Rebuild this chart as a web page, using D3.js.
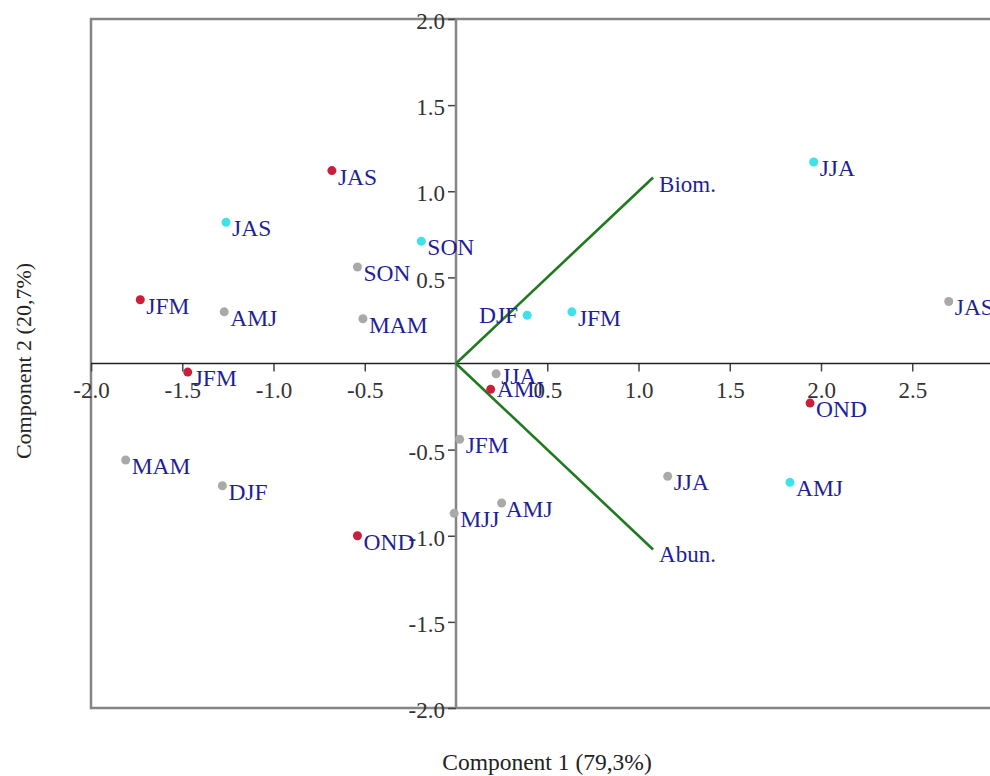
<!DOCTYPE html>
<html>
<head>
<meta charset="utf-8">
<script src="https://cdn.jsdelivr.net/npm/d3@7"></script>
<style>
  body { margin: 0; background: #fff; }
  svg { display: block; font-family: "Liberation Serif", "Times New Roman", serif; }
</style>
</head>
<body>
<svg id="biplot"></svg>
<script>
// scores (component 1, component 2) per group
const redLabels  = ["JAS", "JFM", "JFM", "OND", "AMJ", "OND"];
const redX       = [-0.68, -1.73, -1.47, -0.54, 0.19, 1.94];
const redY       = [1.12, 0.37, -0.05, -1.00, -0.15, -0.23];

const cyanLabels = ["JAS", "SON", "DJF", "JFM", "JJA", "AMJ"];
const cyanX      = [-1.26, -0.19, 0.39, 0.635, 1.96, 1.83];
const cyanY      = [0.82, 0.71, 0.28, 0.30, 1.17, -0.69];

const grayLabels = ["SON", "AMJ", "MAM", "JAS", "JJA", "JFM", "MJJ", "AMJ", "JJA", "MAM", "DJF"];
const grayX      = [-0.54, -1.27, -0.51, 2.70, 0.22, 0.02, -0.01, 0.25, 1.16, -1.81, -1.28];
const grayY      = [0.56, 0.30, 0.26, 0.36, -0.06, -0.44, -0.87, -0.81, -0.655, -0.56, -0.71];

// loadings
const vecLabels = ["Biom.", "Abun."];
const vecX      = [1.08, 1.08];
const vecY      = [1.08, -1.08];

const xTickValues = [-2.0, -1.5, -1.0, -0.5, 0.5, 1.0, 1.5, 2.0, 2.5];
const xTickLabels = ["-2.0", "-1.5", "-1.0", "-0.5", "0.5", "1.0", "1.5", "2.0", "2.5"];
const yTickValues = [-2.0, -1.5, -1.0, -0.5, 0.5, 1.0, 1.5, 2.0];
const yTickLabels = ["-2.0", "-1.5", "-1.0", "-0.5", "0.5", "1.0", "1.5", "2.0"];

const groups = [
  { labels: redLabels,  xs: redX,  ys: redY,  color: "#cc1d3c" },
  { labels: cyanLabels, xs: cyanX, ys: cyanY, color: "#3ee3ea" },
  { labels: grayLabels, xs: grayX, ys: grayY, color: "#a9a9a9" }
];

// small label nudges to avoid collisions (group-point) -> [dx, dy, anchor]
const nudges = {
  "1-2": [-9, 8, "end"],
  "2-4": [5, 10, "start"],
  "0-4": [6, 8, "start"],
  "2-7": [4, 14, "start"]
};

const W = 990, H = 776;
const frame = { left: 91, top: 19, right: 1012, bottom: 708 };
const labelColor = "#1f1f96";

const svg = d3.select("#biplot").attr("width", W).attr("height", H);

const x = d3.scaleLinear().domain([-2, 3]).range([91, 1003.5]);
const y = d3.scaleLinear().domain([-2, 2]).range([frame.bottom, frame.top]);

// frame
svg.append("rect")
  .attr("x", frame.left).attr("y", frame.top)
  .attr("width", frame.right - frame.left).attr("height", frame.bottom - frame.top)
  .attr("fill", "none").attr("stroke", "#858585").attr("stroke-width", 2.5);

// x axis through origin
const xAxis = svg.append("g")
  .attr("transform", `translate(0,${y(0)})`)
  .call(d3.axisBottom(x).tickValues(xTickValues)
    .tickFormat((d, i) => xTickLabels[i]).tickSize(8).tickPadding(10).tickSizeOuter(0));
xAxis.select(".domain").remove();
xAxis.append("line")
  .attr("x1", frame.left).attr("x2", W).attr("stroke", "#222").attr("stroke-width", 1.6);

// y axis through origin
const yAxis = svg.append("g")
  .attr("transform", `translate(${x(0)},0)`)
  .call(d3.axisLeft(y).tickValues(yTickValues)
    .tickFormat((d, i) => yTickLabels[i]).tickSize(8).tickPadding(3).tickSizeOuter(0));
yAxis.select(".domain").remove();
yAxis.append("line")
  .attr("y1", frame.top).attr("y2", frame.bottom).attr("stroke", "#858585").attr("stroke-width", 2.5);

svg.selectAll(".tick line").attr("stroke", "#444").attr("stroke-width", 1.5);
svg.selectAll(".tick text")
  .attr("fill", "#333").style("font-size", "23px").style("font-family", "Liberation Serif, serif");
yAxis.selectAll(".tick text").attr("dy", "0.42em");

// loading vectors
const vectors = vecLabels.map((l, i) => ({ label: l, x: vecX[i], y: vecY[i] }));
svg.selectAll("line.vec")
  .data(vectors)
  .join("line")
  .attr("class", "vec")
  .attr("x1", x(0)).attr("y1", y(0))
  .attr("x2", d => x(d.x)).attr("y2", d => y(d.y))
  .attr("stroke", "#1f7a1f").attr("stroke-width", 2.6);

svg.selectAll("text.vec")
  .data(vectors)
  .join("text")
  .attr("class", "vec")
  .attr("x", d => x(d.x) + 6)
  .attr("y", d => y(d.y) + (d.y > 0 ? 15 : 12))
  .attr("fill", labelColor)
  .style("font-size", "23px")
  .text(d => d.label);

// score points
groups.forEach((g, gi) => {
  const pts = g.labels.map((l, i) => ({ label: l, x: g.xs[i], y: g.ys[i], key: gi + "-" + i }));
  const layer = svg.append("g");
  layer.selectAll("circle")
    .data(pts)
    .join("circle")
    .attr("cx", d => x(d.x))
    .attr("cy", d => y(d.y))
    .attr("r", 4.5)
    .attr("fill", g.color);
  layer.selectAll("text")
    .data(pts)
    .join("text")
    .attr("x", d => x(d.x) + (nudges[d.key] ? nudges[d.key][0] : 6))
    .attr("y", d => y(d.y) + (nudges[d.key] ? nudges[d.key][1] : 14))
    .attr("text-anchor", d => nudges[d.key] ? nudges[d.key][2] : "start")
    .attr("fill", labelColor)
    .style("font-size", "23.5px")
    .text(d => d.label);
});

// axis titles
svg.append("text")
  .attr("x", 547).attr("y", 770)
  .attr("text-anchor", "middle")
  .attr("fill", "#222")
  .style("font-size", "23.5px")
  .text("Component 1 (79,3%)");

svg.append("text")
  .attr("transform", "translate(31,361) rotate(-90)")
  .attr("text-anchor", "middle")
  .attr("fill", "#222")
  .style("font-size", "22px")
  .text("Component 2 (20,7%)");
</script>
</body>
</html>
